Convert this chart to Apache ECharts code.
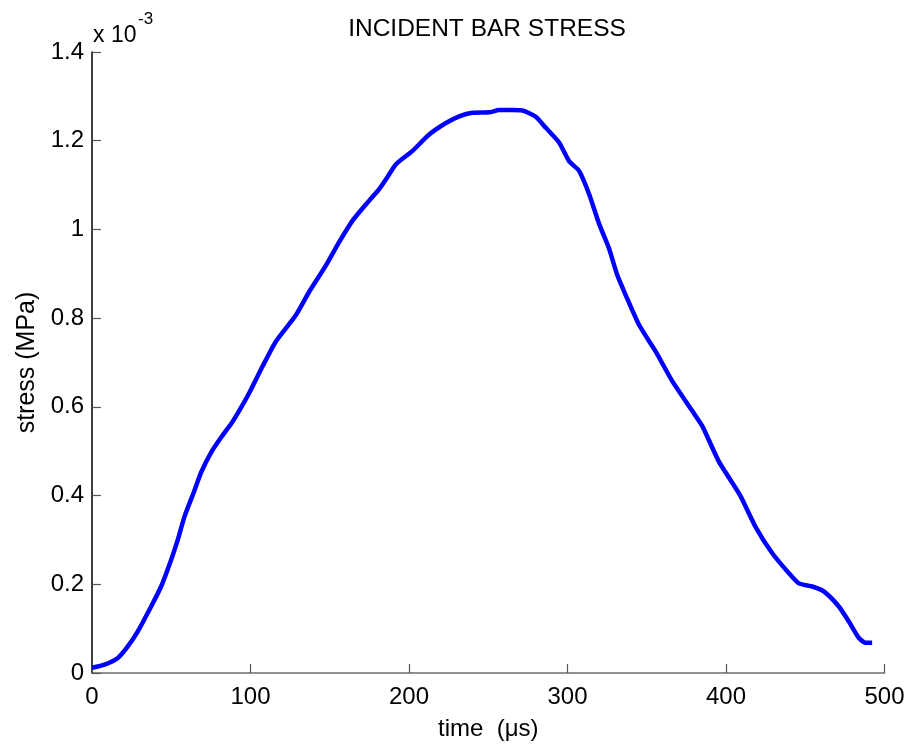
<!DOCTYPE html>
<html>
<head>
<meta charset="utf-8">
<script src="https://cdn.jsdelivr.net/npm/echarts@6/dist/echarts.min.js"></script>
<style>
html,body{margin:0;padding:0;background:#fff;}
#c{width:910px;height:746px;}
</style>
</head>
<body>
<div id="c"></div>
<script>
// time in µs
const timeUs = [0, 7.9, 16.3, 22.6, 28.9, 37.3, 43.6, 49.9, 54.1, 58.3, 64.6, 68.8, 75.1, 81.4, 88.8, 94, 99,
  107.7, 116.1, 128.7, 137.1, 147.6, 156.0, 164.4, 174.9, 181.2, 185.5, 191.8, 202.2, 212.7, 223.3, 231.7,
  240.0, 250.6, 256.9, 265.3, 271.6, 280.0, 286.3, 294.7, 301.0, 307.3, 313.6, 320.0, 326.2, 331.4, 336.7,
  345.1, 355.6, 366.1, 378.7, 385.0, 389.3, 395.6, 399.8, 409, 418.7, 429.2, 439.7, 446.0, 454.4, 461.7,
  471.2, 477.5, 483.8, 488, 492.2];
// stress (x 10^-3 MPa)
const stress = [0.012, 0.019, 0.034, 0.060, 0.094, 0.150, 0.195, 0.255, 0.300, 0.352, 0.411, 0.452, 0.497, 0.531, 0.567, 0.598, 0.630,
  0.692, 0.748, 0.807, 0.860, 0.919, 0.972, 1.020, 1.065, 1.091, 1.113, 1.147, 1.177, 1.214, 1.240, 1.255,
  1.263, 1.264, 1.269, 1.269, 1.268, 1.254, 1.229, 1.196, 1.154, 1.132, 1.080, 1.012, 0.957, 0.897, 0.852,
  0.785, 0.725, 0.658, 0.591, 0.557, 0.524, 0.476, 0.452, 0.400, 0.329, 0.270, 0.225, 0.202, 0.195, 0.184,
  0.150, 0.116, 0.079, 0.068, 0.068];
const xTicks = [0, 100, 200, 300, 400, 500];
const yTicks = [0, 0.2, 0.4, 0.6, 0.8, 1, 1.2, 1.4];

const FONT = "'Liberation Sans', Arial, Helvetica, sans-serif";
const chart = echarts.init(document.getElementById('c'), null, {renderer: 'canvas'});
const pts = timeUs.map((t, i) => [t, stress[i]]);
chart.setOption({
  animation: false,
  backgroundColor: '#fff',
  title: {
    text: 'INCIDENT BAR STRESS',
    left: 482, top: 12, textAlign: 'center',
    textStyle: {fontFamily: FONT, fontSize: 24.5, fontWeight: 'normal', color: '#000'}
  },
  grid: {left: 92, right: 25.5, top: 52, bottom: 69, containLabel: false},
  xAxis: {
    type: 'value', min: xTicks[0], max: xTicks[xTicks.length - 1], interval: 100,
    name: 'time  (\u03BCs)', nameLocation: 'middle', nameGap: 44,
    nameTextStyle: {fontFamily: FONT, fontSize: 24, color: '#000'},
    axisLine: {show: true, lineStyle: {color: '#6e6e6e', width: 1.5}},
    axisTick: {show: true, inside: true, length: 9, lineStyle: {color: '#555', width: 1.2}},
    axisLabel: {fontFamily: FONT, fontSize: 24, color: '#000', margin: 12},
    splitLine: {show: false}
  },
  yAxis: {
    type: 'value', min: yTicks[0], max: yTicks[yTicks.length - 1], interval: 0.2,
    name: 'stress (MPa)', nameLocation: 'middle', nameGap: 50, nameRotate: 90,
    nameTextStyle: {fontFamily: FONT, fontSize: 25, color: '#000'},
    axisLine: {show: true, lineStyle: {color: '#000', width: 1.5}},
    axisTick: {show: true, inside: true, length: 9, lineStyle: {color: '#555', width: 1.2}},
    axisLabel: {fontFamily: FONT, fontSize: 24, color: '#000', margin: 8,
      formatter: v => String(Math.round(v * 10) / 10)},
    splitLine: {show: false}
  },
  graphic: [
    {type: 'text', x: 93, y: 36,
     style: {text: 'x 10', fontFamily: FONT, fontSize: 23, fill: '#000', verticalAlign: 'middle', align: 'left'}},
    {type: 'text', x: 138, y: 19,
     style: {text: '-3', fontFamily: FONT, fontSize: 17, fill: '#000', verticalAlign: 'middle', align: 'left'}}
  ],
  series: [{
    type: 'line', data: pts, showSymbol: false, smooth: 0.2,
    lineStyle: {color: '#0000ff', width: 4.5},
    z: 3
  }]
});
</script>
</body>
</html>
